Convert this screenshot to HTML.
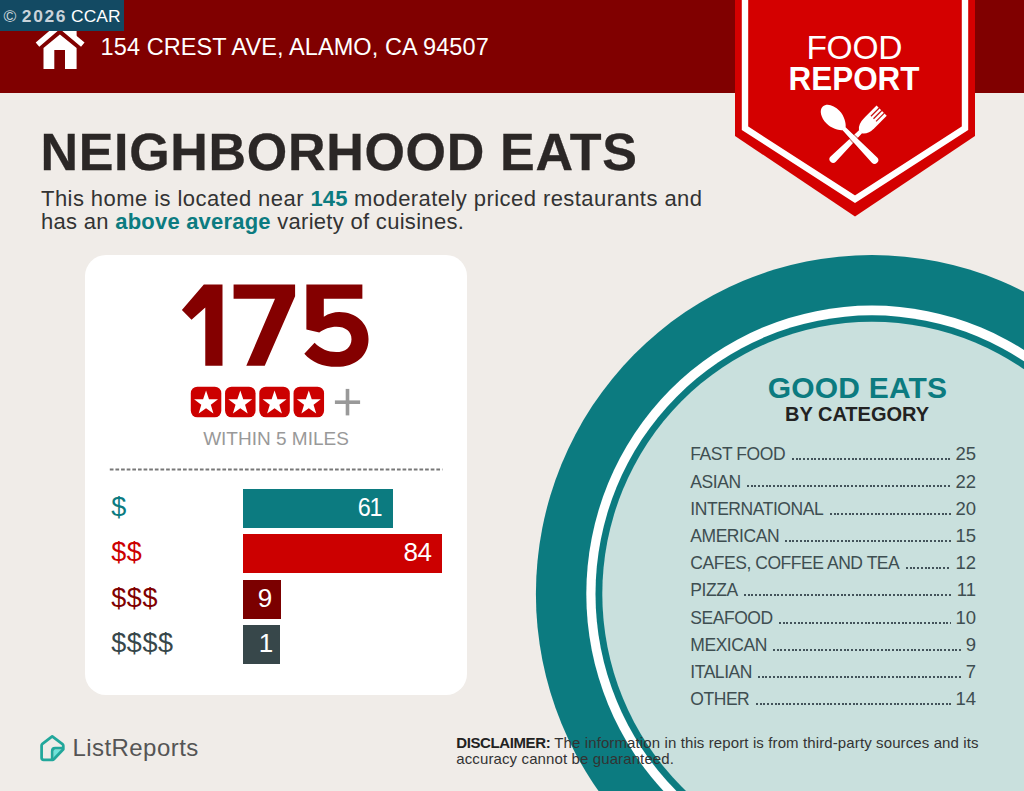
<!DOCTYPE html>
<html>
<head>
<meta charset="utf-8">
<title>Food Report</title>
<style>
*{margin:0;padding:0;box-sizing:border-box}
html,body{width:1024px;height:791px;overflow:hidden;background:#f0ece8}
body{font-family:"Liberation Sans",sans-serif;position:relative;color:#333}
.abs{position:absolute;white-space:nowrap;line-height:1}
#page{position:absolute;left:0;top:0;width:1024px;height:791px;overflow:hidden;background:#f0ece8}
#hdr{position:absolute;left:0;top:0;width:1024px;height:93px;background:#800000}
#wm{position:absolute;left:0;top:0;width:124px;height:31px;background:#134a63}
#card{position:absolute;left:85px;top:255px;width:382.3px;height:439.6px;background:#fff;border-radius:21px}
.bar{position:absolute;left:243px;height:39px}
.bar span{position:absolute;right:9.2px;top:-1px;line-height:39px;font-size:26px;letter-spacing:-0.4px;color:#fff}
.dl{position:absolute;left:111.3px;font-size:27px;line-height:1;letter-spacing:0.55px}
.row{position:absolute;left:690.3px;width:285.7px;height:20px;font-size:17.5px;letter-spacing:-0.45px;color:#3e4e51;line-height:20px;display:flex;align-items:baseline}
.row .dots{flex:1;height:2px;margin:0 4.6px 4.1px 6.4px;align-self:flex-end;background-image:repeating-linear-gradient(to right,#43535a 0,#43535a 2px,rgba(67,83,90,0) 2px,rgba(67,83,90,0) 3.72px)}
.row .nm{font-size:18.5px;letter-spacing:0}
</style>
</head>
<body>
<div id="page">

<!-- plate -->
<svg class="abs" style="left:0;top:0" width="1024" height="791" viewBox="0 0 1024 791">
  <ellipse cx="871.9" cy="593.9" rx="336" ry="338.9" fill="#0c7b80"/>
  <ellipse cx="871.9" cy="593.9" rx="285.6" ry="288.3" fill="#ffffff"/>
  <ellipse cx="871.9" cy="593.9" rx="276.4" ry="278.6" fill="#0c7b80"/>
  <ellipse cx="871.9" cy="593.9" rx="269.6" ry="272.1" fill="#c9e0dd"/>
</svg>

<div id="hdr"></div>

<!-- badge -->
<svg class="abs" style="left:0;top:0" width="1024" height="230" viewBox="0 0 1024 230">
  <polygon points="735,0 975,0 975,136 855,216.5 735,136" fill="#d40000"/>
  <polyline points="745,-5 745,128.3 855,199.2 965,128.3 965,-5" fill="none" stroke="#fff" stroke-width="6.4" stroke-linejoin="miter"/>
  <!-- fork -->
  <g transform="translate(853.7,138.6) rotate(45)" fill="#fff">
    <path d="M-2.1,-10 L2.1,-10 L3.7,29 A3.7,3.7 0 0 1 -3.7,29 Z"/>
    <path d="M-7.2,-39.5 L7.2,-39.5 L7.2,-22 Q7.2,-13 2.1,-9.5 L-2.1,-9.5 Q-7.2,-13 -7.2,-22 Z"/>
    <g stroke="#c81010" stroke-width="1.25">
      <line x1="-3.6" y1="-40" x2="-3.6" y2="-28"/>
      <line x1="0" y1="-40" x2="0" y2="-28"/>
      <line x1="3.6" y1="-40" x2="3.6" y2="-28"/>
    </g>
  </g>
  <!-- spoon -->
  <g transform="translate(853.7,138.6) rotate(-44)" fill="#fff">
    <path d="M-2.9,-12 L2.9,-12 L4.5,10 L-4.5,10 Z" fill="#b00000" opacity="0.55"/>
    <path d="M0,-44.5 C5.6,-44.5 9.1,-37.5 9.1,-30 C9.1,-22.5 5,-16 2.1,-13.8 L3.7,30 A3.7,3.7 0 0 1 -3.7,30 L-2.1,-13.8 C-5,-16 -9.1,-22.5 -9.1,-30 C-9.1,-37.5 -5.6,-44.5 0,-44.5 Z"/>
  </g>
</svg>
<div class="abs" id="food" style="left:734.3px;width:240px;text-align:center;top:31px;font-size:33.5px;color:#fff;letter-spacing:-0.25px">FOOD</div>
<div class="abs" id="report" style="left:733.6px;width:240px;text-align:center;top:61.6px;font-size:33.3px;font-weight:700;color:#fff;transform:scaleX(0.943);transform-origin:50% 50%">REPORT</div>

<!-- house icon -->
<svg class="abs" style="left:0;top:0" width="120" height="93" viewBox="0 0 120 93">
  <polygon points="68.75,24 76.6,24 76.6,39.4 68.75,32.9" fill="#fff"/>
  <polyline points="37.5,44.6 59.9,25.5 82.8,44.6" fill="none" stroke="#fff" stroke-width="5.5" stroke-linejoin="miter" stroke-linecap="butt"/>
  <path d="M43.5,69.1 L43.5,48 L59.9,34.5 L76.6,48 L76.6,69.1 L65,69.1 L65,50.1 L54.3,50.1 L54.3,69.1 Z" fill="#fff"/>
</svg>
<div class="abs" id="addr" style="left:100.6px;top:36.3px;font-size:23.5px;color:#fff;letter-spacing:0.08px">154 CREST AVE, ALAMO, CA 94507</div>

<div id="wm"></div>
<div class="abs" id="wmt" style="left:3.5px;top:8.1px;font-size:17.4px;color:#fff;letter-spacing:0.2px"><span style="color:#c9d3da">©</span> <b style="color:#c9d3da;letter-spacing:1.65px;margin-left:0.3px">2026</b><span style="margin-left:3.9px;letter-spacing:0.05px">CCAR</span></div>

<div class="abs" id="title" style="left:40.5px;top:126.4px;font-size:52px;font-weight:700;color:#2b2726;letter-spacing:0.68px;-webkit-text-stroke:0.3px #2b2726">NEIGHBORHOOD EATS</div>
<div class="abs" id="p1" style="left:41px;top:187.8px;font-size:22px;color:#333;letter-spacing:0.44px">This home is located near <b style="color:#0c7b80;letter-spacing:0.1px">145</b> moderately priced restaurants and</div>
<div class="abs" id="p2" style="left:41px;top:210.6px;font-size:22px;color:#333;letter-spacing:0.3px">has an <b style="color:#0c7b80;letter-spacing:0.2px">above average</b> variety of cuisines.</div>

<div id="card"></div>
<svg class="abs" id="big" style="left:170px;top:270px" width="210" height="110" viewBox="0 0 1024 536">
  <g fill="#840000">
  <polygon points="165,70 256,70 256,467 172,467 172,183 105,243 58,195"/>
  <polygon points="310,70 610,70 610,128 462,467 372,467 512,140 310,140"/>
  <path d="M665,70 H938 V140 H750 V228 C775,212 800,205 825,205 C905,205 968,258 968,337 C968,418 905,472 812,472 C745,472 690,448 655,408 L705,355 C735,385 770,400 810,400 C855,400 885,375 885,337 C885,300 855,277 812,277 C780,277 750,288 728,305 L665,290 Z"/>
  </g>
</svg>
<svg class="abs" style="left:0;top:370px" width="480" height="60" viewBox="0 370 480 60">
<rect x="190.80" y="386.7" width="30.5" height="30.6" rx="6.5" fill="#cc0000"/><polygon transform="translate(206.05,403.2)" points="0.00,-12.60 2.94,-4.05 11.98,-3.89 4.76,1.55 7.41,10.19 0.00,5.00 -7.41,10.19 -4.76,1.55 -11.98,-3.89 -2.94,-4.05" fill="#fff"/>
<rect x="225.05" y="386.7" width="30.5" height="30.6" rx="6.5" fill="#cc0000"/><polygon transform="translate(240.30,403.2)" points="0.00,-12.60 2.94,-4.05 11.98,-3.89 4.76,1.55 7.41,10.19 0.00,5.00 -7.41,10.19 -4.76,1.55 -11.98,-3.89 -2.94,-4.05" fill="#fff"/>
<rect x="259.30" y="386.7" width="30.5" height="30.6" rx="6.5" fill="#cc0000"/><polygon transform="translate(274.55,403.2)" points="0.00,-12.60 2.94,-4.05 11.98,-3.89 4.76,1.55 7.41,10.19 0.00,5.00 -7.41,10.19 -4.76,1.55 -11.98,-3.89 -2.94,-4.05" fill="#fff"/>
<rect x="293.55" y="386.7" width="30.5" height="30.6" rx="6.5" fill="#cc0000"/><polygon transform="translate(308.80,403.2)" points="0.00,-12.60 2.94,-4.05 11.98,-3.89 4.76,1.55 7.41,10.19 0.00,5.00 -7.41,10.19 -4.76,1.55 -11.98,-3.89 -2.94,-4.05" fill="#fff"/>
  <rect x="334.9" y="400.4" width="25.2" height="3.6" fill="#999"/>
  <rect x="345.7" y="388.9" width="3.6" height="26.5" fill="#999"/>
</svg>
<div class="abs" id="within" style="left:85px;width:382px;text-align:center;top:428.7px;font-size:19px;color:#999">WITHIN 5 MILES</div>
<svg class="abs" style="left:100px;top:460px" width="360" height="20" viewBox="100 460 360 20"><line x1="109.8" y1="469.45" x2="442.4" y2="469.45" stroke="#787878" stroke-width="2" stroke-dasharray="3.7 1.93"/></svg>

<div class="dl" style="top:494px;color:#0c7b80">$</div>
<div class="dl" style="top:539px;color:#cc0000">$$</div>
<div class="dl" style="top:585px;color:#800000">$$$</div>
<div class="dl" style="top:630px;color:#37474a">$$$$</div>
<div class="bar" style="top:489px;width:149.5px;background:#0c7b80"><span style="letter-spacing:-1.2px;right:10.9px;transform:scaleX(0.9);transform-origin:100% 50%">61</span></div>
<div class="bar" style="top:534.3px;width:198.7px;background:#cc0000"><span style="right:10.2px">84</span></div>
<div class="bar" style="top:579.6px;width:38px;background:#7b0000"><span>9</span></div>
<div class="bar" style="top:625px;width:37.3px;background:#37474a"><span style="right:7.6px">1</span></div>

<div class="abs" id="ge" style="left:757.5px;width:200px;text-align:center;top:372.9px;font-size:30px;font-weight:700;color:#0c7b80;letter-spacing:0.2px">GOOD EATS</div>
<div class="abs" id="bc" style="left:757px;width:200px;text-align:center;top:403.5px;font-size:20px;font-weight:700;color:#222">BY CATEGORY</div>
<div class="row" style="top:444.34px"><span class="lb">FAST FOOD</span><span class="dots"></span><span class="nm">25</span></div>
<div class="row" style="top:471.56px"><span class="lb">ASIAN</span><span class="dots"></span><span class="nm">22</span></div>
<div class="row" style="top:498.78px"><span class="lb">INTERNATIONAL</span><span class="dots"></span><span class="nm">20</span></div>
<div class="row" style="top:526.00px"><span class="lb">AMERICAN</span><span class="dots"></span><span class="nm">15</span></div>
<div class="row" style="top:553.22px"><span class="lb">CAFES, COFFEE AND TEA</span><span class="dots"></span><span class="nm">12</span></div>
<div class="row" style="top:580.44px"><span class="lb">PIZZA</span><span class="dots"></span><span class="nm">11</span></div>
<div class="row" style="top:607.66px"><span class="lb">SEAFOOD</span><span class="dots"></span><span class="nm">10</span></div>
<div class="row" style="top:634.88px"><span class="lb">MEXICAN</span><span class="dots"></span><span class="nm">9</span></div>
<div class="row" style="top:662.10px"><span class="lb">ITALIAN</span><span class="dots"></span><span class="nm">7</span></div>
<div class="row" style="top:689.32px"><span class="lb">OTHER</span><span class="dots"></span><span class="nm">14</span></div>

<!-- logo -->
<svg class="abs" style="left:36px;top:730px" width="40" height="40" viewBox="36 730 40 40">
  <polygon points="53.6,749.8 61.6,749.8 53.6,758.4" fill="#6fe3da"/>
  <path d="M52.2,736.3 L62.5,744.1 Q63.3,744.7 63.3,745.8 L63.3,749.2 L53.8,759.3 Q53.3,759.8 52.6,759.8 L43.6,759.8 Q41.6,759.8 41.6,757.8 L41.6,745.5 Q41.6,744.5 42.4,743.9 Z" fill="none" stroke="#22a79b" stroke-width="2.75" stroke-linejoin="round"/>
  <path d="M63.3,748.2 L55.2,748.2 Q52.2,748.2 52.2,751.2 L52.2,759.5" fill="none" stroke="#22a79b" stroke-width="2.75" stroke-linejoin="round"/>
</svg>
<div class="abs" id="lr" style="left:72.4px;top:736px;font-size:24px;color:#555;letter-spacing:0.45px">ListReports</div>

<div class="abs" id="d1" style="left:456.3px;top:735.2px;font-size:15px;color:#333;letter-spacing:0.115px"><b style="color:#222;letter-spacing:-0.4px">DISCLAIMER:</b> The information in this report is from third-party sources and its</div>
<div class="abs" id="d2" style="left:456.3px;top:751px;font-size:15px;color:#333;letter-spacing:0.115px">accuracy cannot be guaranteed.</div>

</div>
</body>
</html>
